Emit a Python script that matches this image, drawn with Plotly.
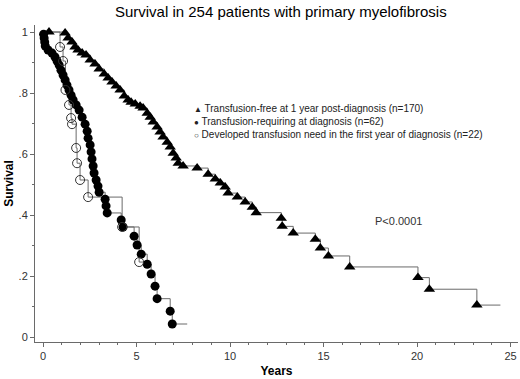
import plotly.graph_objects as go

# ---- data ----
tf_years = [0, 0.32, 1.18, 1.34, 1.55, 1.71, 1.87, 2.09, 2.30, 2.52, 2.78, 3.00, 3.27, 3.48,
            3.69, 3.91, 4.12, 4.34, 4.55, 4.71, 4.93, 5.19, 5.35, 5.57, 5.73, 5.89, 6.10, 6.26,
            6.42, 6.64, 6.80, 6.96, 7.12, 7.23, 7.49, 8.24, 8.83, 9.21, 9.48, 9.74, 9.90, 10.39,
            10.81, 11.19, 11.40, 12.74, 12.79, 13.38, 14.56, 14.83, 15.26, 16.40, 20.05, 20.66,
            23.20, 24.46]
tf_surv = [1.0, 1.0, 0.997, 0.980, 0.967, 0.951, 0.941, 0.931, 0.925, 0.908, 0.895, 0.879,
           0.862, 0.849, 0.836, 0.823, 0.810, 0.790, 0.777, 0.770, 0.764, 0.757, 0.751, 0.734,
           0.721, 0.705, 0.689, 0.672, 0.656, 0.639, 0.623, 0.603, 0.587, 0.570, 0.561, 0.554,
           0.534, 0.518, 0.505, 0.492, 0.472, 0.459, 0.443, 0.426, 0.408, 0.390, 0.363, 0.341,
           0.321, 0.292, 0.266, 0.230, 0.195, 0.157, 0.105, 0.105]

dot_years = [0, 0.03, 0.06, 0.09, 0.12, 0.27, 0.48, 0.64, 0.75, 0.86, 0.96, 1.07, 1.18, 1.28,
             1.39, 1.50, 1.61, 1.77, 1.93, 2.09, 2.25, 2.36, 2.41, 2.52, 2.57, 2.62, 2.68, 2.73,
             2.84, 2.94, 3.00, 3.32, 3.37, 3.43, 4.18, 4.28, 4.87, 5.03, 5.25, 5.57, 5.78, 5.99,
             6.10, 6.80, 6.91, 7.71]
dot_surv = [1.0, 0.993, 0.980, 0.967, 0.954, 0.941, 0.931, 0.918, 0.905, 0.892, 0.875, 0.859,
            0.843, 0.826, 0.810, 0.793, 0.777, 0.761, 0.744, 0.721, 0.698, 0.675, 0.652, 0.630,
            0.607, 0.584, 0.561, 0.538, 0.515, 0.495, 0.475, 0.452, 0.430, 0.407, 0.384, 0.361,
            0.331, 0.302, 0.272, 0.239, 0.207, 0.167, 0.126, 0.085, 0.043, 0.043]

oc_years = [0, 0.91, 1.07, 1.20, 1.39, 1.50, 1.55, 1.77, 1.82, 1.98, 2.41, 4.23, 5.14, 5.46]
oc_surv = [1.0, 0.951, 0.905, 0.810, 0.761, 0.718, 0.698, 0.620, 0.570, 0.515, 0.459, 0.361,
           0.246, 0.246]

legend_names = ["Transfusion-free at 1 year post-diagnosis (n=170)",
                "Transfusion-requiring at diagnosis (n=62)",
                "Developed transfusion need in the first year of diagnosis (n=22)"]
legend_symbols = ["▲", "●", "○"]

x_tick_vals = [0, 5, 10, 15, 20, 25]
y_tick_vals = [0, 0.2, 0.4, 0.6, 0.8, 1.0]
y_tick_text = ["0", ".2", ".4", ".6", ".8", "1"]

FONT = "Arial, Liberation Sans, sans-serif"
LINE_C = "#6a6a6a"

fig = go.Figure()

# step lines
for xs, ys in [(tf_years, tf_surv), (dot_years, dot_surv), (oc_years, oc_surv)]:
    fig.add_trace(go.Scatter(x=xs, y=ys, mode="lines", line=dict(shape="hv", color=LINE_C, width=1),
                             showlegend=False, hoverinfo="skip"))

# markers
fig.add_trace(go.Scatter(x=tf_years[1:-1], y=tf_surv[1:-1], mode="markers", showlegend=False,
                         name=legend_names[0],
                         marker=dict(symbol="triangle-up", size=10, color="black")))
fig.add_trace(go.Scatter(x=dot_years[1:-1], y=dot_surv[1:-1], mode="markers", showlegend=False,
                         name=legend_names[1],
                         marker=dict(symbol="circle", size=9, color="black")))
fig.add_trace(go.Scatter(x=oc_years[1:-1], y=oc_surv[1:-1], mode="markers", showlegend=False,
                         name=legend_names[2],
                         marker=dict(symbol="circle-open", size=9, color="#333", line=dict(width=1))))

axis_common = dict(showline=True, linecolor=LINE_C, linewidth=1, ticks="outside", ticklen=4,
                   tickcolor=LINE_C, showgrid=False, zeroline=False, automargin=False,
                   tickfont=dict(family=FONT, size=11, color="#333"))

legend_text = "<br>".join(f"<span style='font-size:8px'>{s}</span> {n}"
                          for s, n in zip(legend_symbols, legend_names))

fig.update_layout(
    width=520, height=379,
    margin=dict(l=35, r=2, t=25, b=37),
    paper_bgcolor="white", plot_bgcolor="white",
    font=dict(family=FONT, color="black"),
    title=dict(text="Survival in 254 patients with primary myelofibrosis", x=0.54, xanchor="center",
               y=0.968, yanchor="middle", font=dict(family=FONT, size=15, color="black")),
    xaxis=dict(range=[-0.43, 25.4], tickvals=x_tick_vals,
               minor=dict(dtick=1, ticks="outside", ticklen=2, tickcolor=LINE_C),
               title=dict(text="<b>Years</b>", font=dict(family=FONT, size=12), standoff=5),
               **axis_common),
    yaxis=dict(range=[-0.016, 1.023], tickvals=y_tick_vals, ticktext=y_tick_text,
               minor=dict(dtick=0.1, ticks="outside", ticklen=2, tickcolor=LINE_C),
               title=dict(text="<b>Survival</b>", font=dict(family=FONT, size=12), standoff=2),
               **axis_common),
    showlegend=False,
    annotations=[
        dict(text=legend_text, x=0.325, y=0.761, xref="paper", yref="paper", xanchor="left",
             yanchor="top", align="left", showarrow=False,
             font=dict(family=FONT, size=10, color="#222")),
        dict(text="P<0.0001", x=19.0, y=0.38, xref="x", yref="y", showarrow=False,
             font=dict(family=FONT, size=11, color="#333")),
    ],
)

fig.write_html("out.html", config={"displayModeBar": False},
               post_script="document.body.style.margin='0';")
